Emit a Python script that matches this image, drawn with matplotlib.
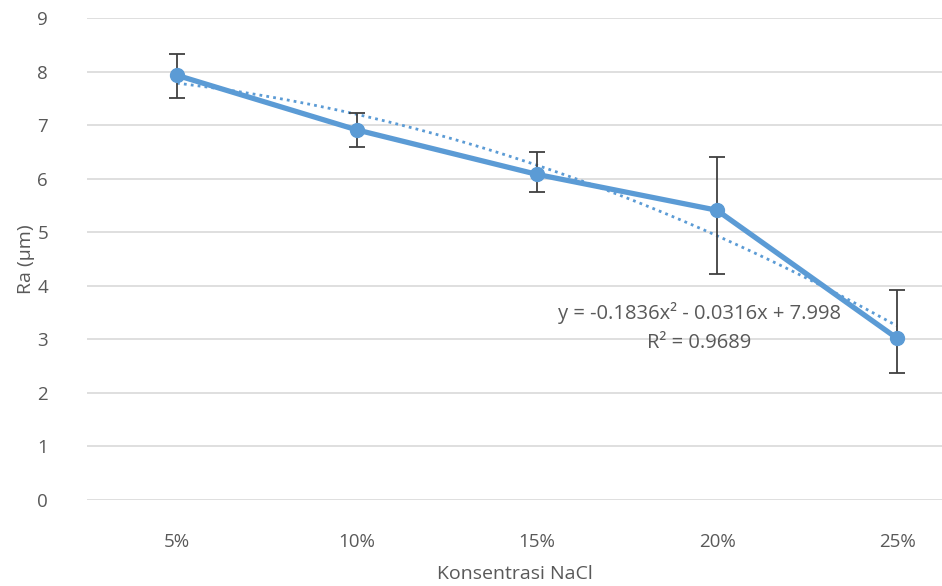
import numpy as np
import matplotlib.pyplot as plt

plt.rcParams['font.family'] = ['Open Sans', 'DejaVu Sans']

# data
categories = ['5%', '10%', '15%', '20%', '25%']
ra = [7.93, 6.91, 6.08, 5.41, 3.02]
err_low = [0.42, 0.32, 0.33, 1.19, 0.65]
err_high = [0.40, 0.31, 0.41, 0.99, 0.90]
trend_coef = [-0.1836, -0.0316, 7.998]
eq_text = 'y = -0.1836x² - 0.0316x + 7.998\nR² = 0.9689'

blue = '#5B9BD5'
grey = '#595959'

fig = plt.figure(figsize=(9.42, 5.86), dpi=100)
ax = fig.add_axes([87/942, 1 - 500/586, 855/942, 482/586])

x = np.arange(1, len(categories) + 1)

# trendline (dotted)
xt = np.linspace(1, len(categories), 100)
ax.plot(xt, np.polyval(trend_coef, xt), linestyle=(0, (1, 1.5)), color=blue, linewidth=2, zorder=2)

# main series with error bars
ax.errorbar(x, ra, yerr=[err_low, err_high], fmt='none', ecolor='#404040',
            elinewidth=1.3, capsize=6, capthick=1.3, zorder=3)
ax.plot(x, ra, color=blue, linewidth=3.8, marker='o', markersize=10, zorder=4)

ax.text(3.9, 3.22, eq_text, ha='center', va='center', color=grey, fontsize=14.5,
        linespacing=1.55, zorder=5)

ax.set_xlim(0.5, 0.5 + 855/180)
ax.set_ylim(0, 9)
ax.set_yticks(range(0, 10))
ax.set_xticks(x)
ax.set_xticklabels(categories)
ax.grid(axis='y', color='#D9D9D9', linewidth=1.2)
ax.set_axisbelow(True)
for s in ax.spines.values():
    s.set_visible(False)
ax.tick_params(axis='both', length=0, labelcolor=grey, labelsize=13.5)
ax.tick_params(axis='y', pad=28)
ax.tick_params(axis='x', pad=24)

ax.set_xlabel('Konsentrasi NaCl', color=grey, fontsize=14, labelpad=10)
ax.set_ylabel('Ra (μm)', color=grey, fontsize=14, labelpad=2)

fig.savefig('out.png', dpi=100)
